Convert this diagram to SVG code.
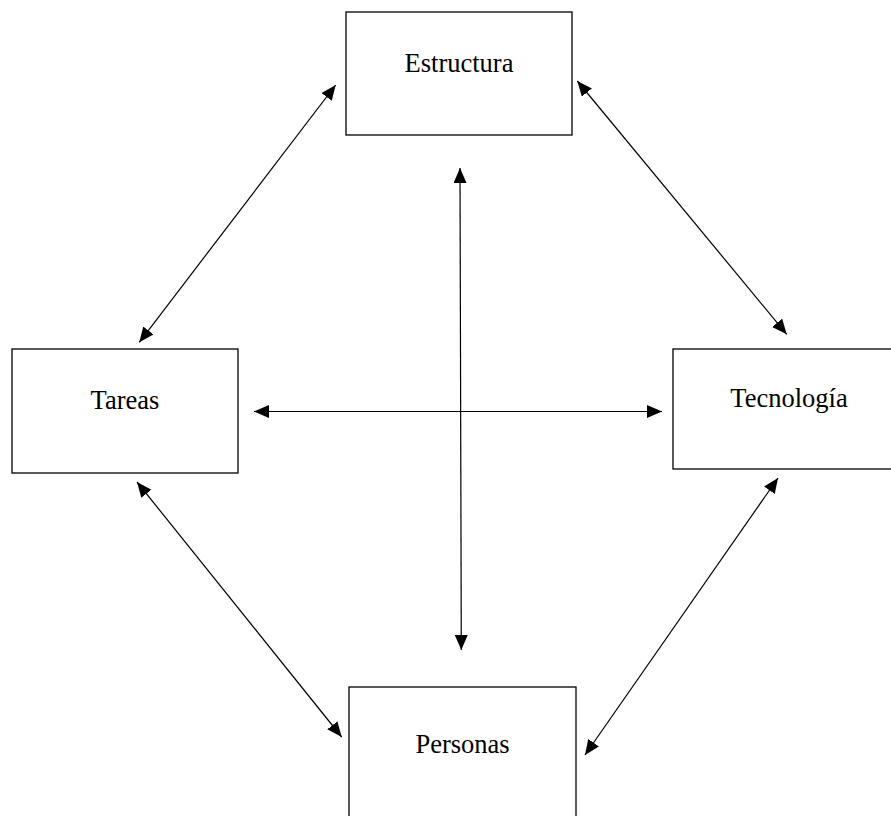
<svg xmlns="http://www.w3.org/2000/svg" width="891" height="816" viewBox="0 0 891 816">
<style>
.box{fill:#fff;stroke:#000;stroke-width:1.3}
.lbl{font-family:"Liberation Serif","Times New Roman",serif;font-size:26.5px;fill:#000;text-anchor:middle}
.con{stroke:#000;stroke-width:1.2;fill:none;marker-start:url(#ah);marker-end:url(#ah)}
</style>
<defs>
<marker id="ah" markerUnits="userSpaceOnUse" markerWidth="16" markerHeight="14" refX="15" refY="6.5" orient="auto-start-reverse" viewBox="0 0 16 14">
<path d="M0,0 L15,6.5 L0,13 z" fill="#000"/>
</marker>
</defs>
<rect width="891" height="816" fill="#fff"/>
<g id="connectors">
<line class="con" x1="460" y1="168" x2="461.3" y2="650"/>
<line class="con" x1="254" y1="411.5" x2="662" y2="411.5"/>
<line class="con" x1="335.7" y1="85" x2="139.3" y2="342.3"/>
<line class="con" x1="577.3" y1="81" x2="786.7" y2="334.3"/>
<line class="con" x1="137" y1="482" x2="341.7" y2="737"/>
<line class="con" x1="778" y1="478" x2="585" y2="755"/>
</g>
<g id="estructura">
<rect class="box" x="346" y="12" width="226" height="123"/>
<text class="lbl" x="459" y="72">Estructura</text>
</g>
<g id="tareas">
<rect class="box" x="12" y="349" width="226" height="124"/>
<text class="lbl" x="125" y="409">Tareas</text>
</g>
<g id="tecnologia">
<rect class="box" x="673" y="349" width="231" height="120"/>
<text class="lbl" x="789" y="407">Tecnología</text>
</g>
<g id="personas">
<rect class="box" x="349" y="687" width="227" height="140"/>
<text class="lbl" x="462.5" y="753">Personas</text>
</g>
</svg>
